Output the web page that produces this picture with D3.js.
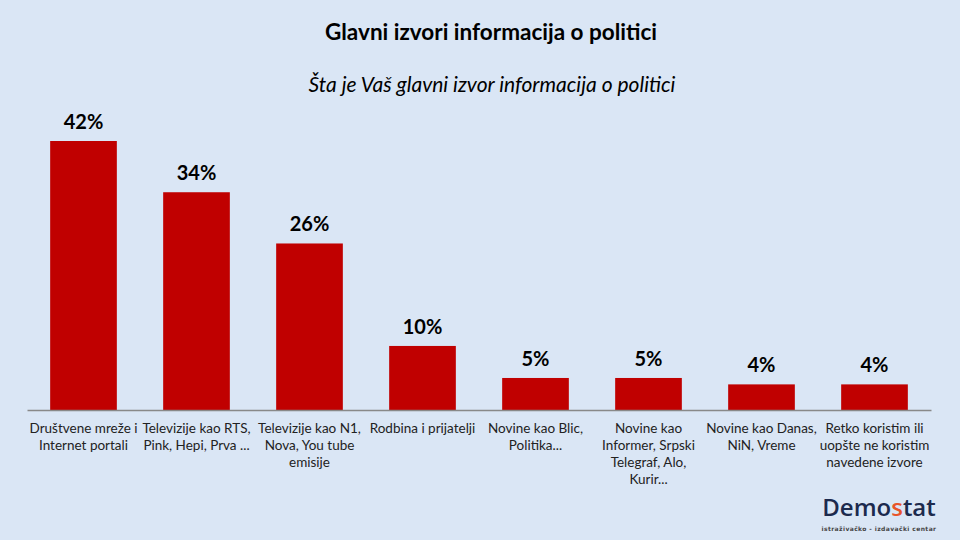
<!DOCTYPE html>
<html><head><meta charset="utf-8">
<script src="https://cdn.jsdelivr.net/npm/d3@7"></script>
<style>body{margin:0;background:#dae6f5;} svg{display:block;}</style>
</head><body>
<svg id="c" width="960" height="540"></svg>
<script>
const categories = [
  ["Društvene mreže i","Internet portali"],
  ["Televizije kao RTS,","Pink, Hepi, Prva ..."],
  ["Televizije kao  N1,","Nova, You tube","emisije"],
  ["Rodbina i prijatelji"],
  ["Novine kao Blic,","Politika..."],
  ["Novine kao","Informer, Srpski","Telegraf, Alo,","Kurir..."],
  ["Novine kao Danas,","NiN, Vreme"],
  ["Retko koristim ili","uopšte ne koristim","navedene izvore"]
];
const values = [42, 34, 26, 10, 5, 5, 4, 4];
const valueLabels = ["42%","34%","26%","10%","5%","5%","4%","4%"];
const title = "Glavni izvori informacija o politici";
const subtitle = "Šta je Vaš glavni izvor informacija o politici";

const svg = d3.select("#c");
svg.append("rect").attr("width",960).attr("height",540).attr("fill","#dae6f5");
const font = "Lato, 'Open Sans', 'Noto Sans', sans-serif";

const x = d3.scaleBand().domain(d3.range(values.length)).range([27,931]).paddingInner(0.41).paddingOuter(0.205);
const y = d3.scaleLinear().domain([0,42]).range([410,141]);

svg.append("text").attr("x",491).attr("y",40).attr("text-anchor","middle")
  .attr("font-family",font).attr("font-weight","bold").attr("font-size",22.5).attr("fill","#000").text(title);
svg.append("text").attr("x",492).attr("y",92).attr("text-anchor","middle")
  .attr("font-family",font).attr("font-style","italic").attr("font-size",21).attr("fill","#000").text(subtitle);

svg.selectAll("rect.bar").data(values).join("rect").attr("class","bar")
  .attr("x",(d,i)=>x(i)).attr("width",x.bandwidth())
  .attr("y",d=>y(d)).attr("height",d=>y(0)-y(d)).attr("fill","#c00000");

svg.selectAll("text.val").data(values).join("text").attr("class","val")
  .attr("x",(d,i)=>x(i)+x.bandwidth()/2).attr("y",d=>y(d)-12)
  .attr("text-anchor","middle").attr("font-family",font).attr("font-weight","bold")
  .attr("font-size",20).attr("fill","#000").text((d,i)=>valueLabels[i]);

const axis = d3.axisBottom(x).tickSize(0).tickFormat("");
const g = svg.append("g").attr("transform","translate(0,410)").call(axis);
g.select(".domain").attr("stroke","#898989").attr("stroke-width",1.3);

const lbl = svg.selectAll("text.cat").data(categories).join("text").attr("class","cat")
  .attr("text-anchor","middle").attr("font-family",font).attr("font-size",13.5).attr("fill","#222");
lbl.each(function(lines,i){
  const t = d3.select(this);
  lines.forEach((l,j)=>{
    t.append("tspan").attr("x",x(i)+x.bandwidth()/2).attr("y",433+j*17).text(l);
  });
});

// logo
const logo = svg.append("text").attr("x",879).attr("y",516).attr("text-anchor","middle")
  .attr("font-family","'Open Sans', sans-serif").attr("font-weight",600).attr("font-size",24).attr("fill","#1c2a4d").attr("letter-spacing",0);
logo.append("tspan").text("Demo");
logo.append("tspan").attr("fill","#e8542a").text("s");
logo.append("tspan").text("tat");
svg.append("text").attr("x",879).attr("y",531).attr("text-anchor","middle")
  .attr("font-family","'DejaVu Sans', sans-serif").attr("font-weight","bold").attr("font-size",6).attr("fill","#444").attr("letter-spacing",0.4)
  .text("istraživačko - izdavački  centar");
</script>
</body></html>
